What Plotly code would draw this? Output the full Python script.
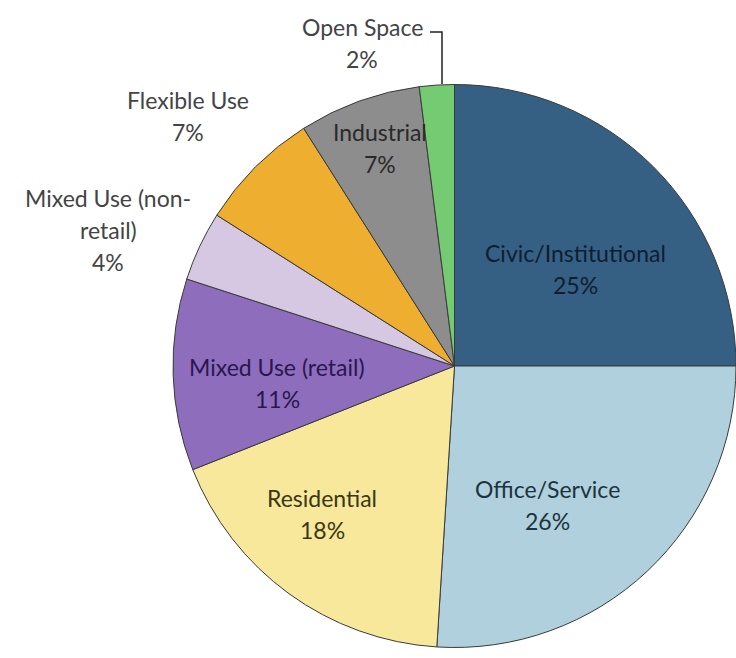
import plotly.graph_objects as go

# ---- data ----
categories = ["Civic/Institutional", "Office/Service", "Residential", "Mixed Use (retail)",
              "Mixed Use (non-retail)", "Flexible Use", "Industrial", "Open Space"]
values = [25, 26, 18, 11, 4, 7, 7, 2]
# how each label is broken over lines in the picture
label_lines = [["Civic/Institutional"], ["Office/Service"], ["Residential"], ["Mixed Use (retail)"],
               ["Mixed Use (non-", "retail)"], ["Flexible Use"], ["Industrial"], ["Open Space"]]

# ---- style ----
colors = ["#365F84", "#AFD0DC", "#F7E89C", "#8E6DBD", "#D6C7E3", "#EEAF30", "#8D8D8D", "#74CB72"]
text_colors = ["#0E1E30", "#1C3440", "#3A3814", "#2A1650", "#444444", "#444444", "#2A2A2A", "#444444"]
# label anchor (center x, first-line center y) in pixels
label_pos = [(575, 253), (547, 489), (322, 498), (277, 367), (108, 198), (188, 100), (380, 132), (362, 27)]
line_gap = 32
W, H = 736, 658
FONT = "Lato"
FS = 23

cx, cy, R = 455, 366, 282
fig = go.Figure(go.Pie(
    labels=categories, values=values, sort=False, direction="clockwise", rotation=0,
    marker=dict(colors=colors, line=dict(color="#3A3A3A", width=1)),
    textinfo="none", hoverinfo="label+percent", showlegend=False,
    domain=dict(x=[(cx - R) / W, min(1, (cx + R) / W)], y=[1 - (cy + R) / H, 1 - (cy - R) / H]),
))

annotations = []
for i, (lab, v) in enumerate(zip(label_lines, values)):
    x, y = label_pos[i]
    lines = lab + [f"{v}%"]
    for k, t in enumerate(lines):
        annotations.append(dict(
            x=x / W, y=1 - (y + k * line_gap) / H, xref="paper", yref="paper",
            text=t, showarrow=False, xanchor="center", yanchor="middle",
            font=dict(family=FONT, size=FS, color=text_colors[i])))

# leader line for Open Space
lx0, ly, lx1, ly1 = 430, 32, 442, 84
shapes = [dict(type="path", xref="paper", yref="paper",
               path=f"M {lx0/W},{1-ly/H} L {lx1/W},{1-ly/H} L {lx1/W},{1-ly1/H}",
               line=dict(color="#222222", width=1.5))]

fig.update_layout(width=W, height=H, margin=dict(l=0, r=0, t=0, b=0),
                  paper_bgcolor="white", plot_bgcolor="white",
                  annotations=annotations, shapes=shapes)
fig.write_html("out.html")
